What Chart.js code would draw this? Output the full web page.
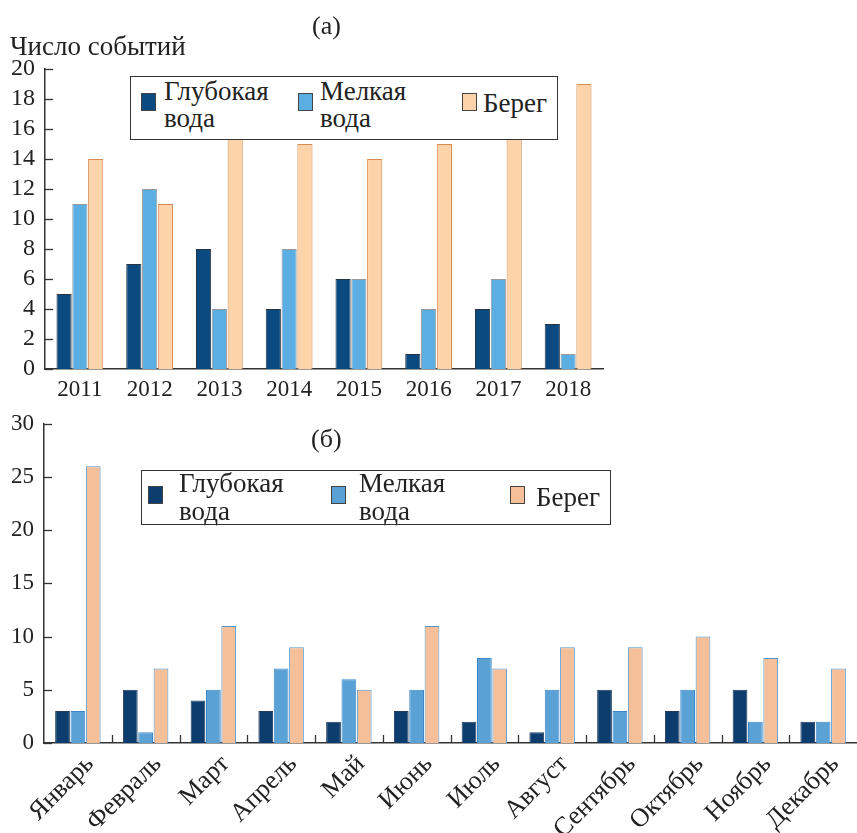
<!DOCTYPE html>
<html>
<head>
<meta charset="utf-8">
<script src="https://cdn.jsdelivr.net/npm/chart.js"></script>
<style>
  body { margin: 0; background: #fff; }
  #wrap { position: relative; width: 857px; height: 833px; font-family: "Liberation Serif", "Times New Roman", serif; color: #222; overflow: hidden; }
  canvas { position: absolute; left: 0; }
  .txt { position: absolute; font-size: 27px; line-height: 1; white-space: nowrap; }
  .legend { position: absolute; border: 1.5px solid #333; background: #fff; box-sizing: border-box; z-index: 2; }
  .item { position: absolute; font-size: 27px; line-height: 27px; white-space: nowrap; }
  .sw { position: absolute; width: 15px; height: 18px; box-sizing: border-box; border: 1.5px solid #444; }
</style>
</head>
<body>
<div id="wrap">
  <canvas id="chartA" width="857" height="412" style="top:0"></canvas>
  <canvas id="chartB" width="857" height="433" style="top:400px"></canvas>

  <div class="txt" style="left:312px;top:13px;font-size:26px">(а)</div>
  <div class="txt" style="left:10px;top:33px">Число событий</div>
  <div class="txt" style="left:311px;top:426px;font-size:26px">(б)</div>

  <div class="legend" id="legA" style="left:130px;top:76px;width:428px;height:64px"></div>
  <div class="legend" id="legB" style="left:141px;top:470px;width:470px;height:55px"></div>
</div>

<script>
// (a) by year
const years = ["2011", "2012", "2013", "2014", "2015", "2016", "2017", "2018"];
const deepByYear = [5, 7, 8, 4, 6, 1, 4, 3];
const shallowByYear = [11, 12, 4, 8, 6, 4, 6, 1];
const shoreByYear = [14, 11, 16, 15, 14, 15, 16, 19];

// (б) by month
const months = ["Январь", "Февраль", "Март", "Апрель", "Май", "Июнь", "Июль", "Август", "Сентябрь", "Октябрь", "Ноябрь", "Декабрь"];
const deepByMonth = [3, 5, 4, 3, 2, 3, 2, 1, 5, 3, 5, 2];
const shallowByMonth = [3, 1, 5, 7, 6, 5, 8, 5, 3, 5, 2, 2];
const shoreByMonth = [26, 7, 11, 9, 5, 11, 7, 9, 9, 10, 8, 7];

const seriesNames = ["Глубокая\nвода", "Мелкая\nвода", "Берег"];

const colorsA = [
  { fill: "#0b4a80", border: "#2a3441" },
  { fill: "#5baee2", border: "#9a9a9a" },
  { fill: "#fdd3aa", border: "#d98a52" }
];
const colorsB = [
  { fill: "#0c3d6e", border: "#1f3a5a" },
  { fill: "#5aa1d6", border: "#3f88c8" },
  { fill: "#f5bf99", border: "#4f95d0" }
];

const serif = '"Liberation Serif", "Times New Roman", serif';
Chart.defaults.font.family = serif;
Chart.defaults.color = "#222";

// short ticks drawn inside the plot (y values, and x category boundaries)
const innerTicks = {
  id: "innerTicks",
  afterDraw(chart, args, opts) {
    const { ctx, chartArea, scales } = chart;
    ctx.save();
    ctx.strokeStyle = "#333";
    ctx.lineWidth = 1.3;
    const y = scales.y;
    y.ticks.forEach((t, i) => {
      const py = Math.round(y.getPixelForTick(i)) + 0.5;
      ctx.beginPath();
      ctx.moveTo(chartArea.left, py);
      ctx.lineTo(chartArea.left + opts.len, py);
      ctx.stroke();
    });
    if (opts.xBounds) {
      const x = scales.x;
      for (let i = 1; i < x.ticks.length; i++) {
        const px = Math.round((x.getPixelForTick(i - 1) + x.getPixelForTick(i)) / 2) + 0.5;
        ctx.beginPath();
        ctx.moveTo(px, chartArea.bottom);
        ctx.lineTo(px, chartArea.bottom - opts.len);
        ctx.stroke();
      }
    }
    ctx.restore();
  }
};

function makeDatasets(lists, colors) {
  return lists.map((data, i) => ({
    label: seriesNames[i].replace("\n", " "),
    data,
    backgroundColor: colors[i].fill,
    borderColor: colors[i].border,
    borderWidth: 1,
    categoryPercentage: 0.68,
    barPercentage: 0.96
  }));
}

function makeChart(canvas, labels, datasets, cfg) {
  return new Chart(canvas, {
    type: "bar",
    data: { labels, datasets },
    plugins: [innerTicks],
    options: {
      responsive: false,
      animation: false,
      devicePixelRatio: 1,
      layout: { padding: cfg.padding },
      plugins: {
        legend: { display: false },
        tooltip: { enabled: false },
        innerTicks: { len: 8, xBounds: cfg.xBounds }
      },
      scales: {
        x: {
          grid: { display: false, drawTicks: false },
          border: { display: true, color: "#333", width: 1.5 },
          ticks: {
            font: { size: cfg.xFont, family: serif },
            color: "#222",
            padding: cfg.xPad,
            labelOffset: cfg.xShift,
            autoSkip: false,
            minRotation: cfg.rot,
            maxRotation: cfg.rot
          },
          afterFit: s => { s.height = cfg.xHeight; }
        },
        y: {
          min: 0,
          max: cfg.yMax,
          grid: { display: false, drawTicks: false },
          border: { display: true, color: "#333", width: 1.5 },
          ticks: { stepSize: cfg.yStep, autoSkip: false, font: { size: cfg.yFont, family: serif }, color: "#222", padding: 10 },
          afterFit: s => { s.width = cfg.yWidth; }
        }
      }
    }
  });
}

function drawAll() {
  makeChart(document.getElementById("chartA"), years,
    makeDatasets([deepByYear, shallowByYear, shoreByYear], colorsA),
    { padding: { top: 69, right: 254, left: 0, bottom: 0 }, yMax: 20, yStep: 2, yWidth: 45, xHeight: 43,
      xFont: 23, yFont: 24, xPad: 7, xShift: 0, rot: 0, xBounds: false });

  makeChart(document.getElementById("chartB"), months,
    makeDatasets([deepByMonth, shallowByMonth, shoreByMonth], colorsB),
    { padding: { top: 21, right: 0, left: 0, bottom: 0 }, yMax: 30, yStep: 5, yWidth: 44, xHeight: 90,
      xFont: 26, yFont: 23, xPad: 6, xShift: 12, rot: 45, xBounds: true });
}

// legends as html boxes
function buildLegend(el, colors, pos, lh) {
  seriesNames.forEach((name, i) => {
    const sw = document.createElement("div");
    sw.className = "sw";
    sw.style.left = pos[i].sx + "px";
    sw.style.top = pos[i].sy + "px";
    sw.style.background = colors[i].fill;
    el.appendChild(sw);
    const t = document.createElement("div");
    t.className = "item";
    t.style.left = pos[i].tx + "px";
    t.style.top = pos[i].ty + "px";
    t.style.lineHeight = lh + "px";
    t.innerHTML = name.replace("\n", "<br>");
    el.appendChild(t);
  });
}

buildLegend(document.getElementById("legA"), colorsA, [
  { sx: 10, sy: 16, tx: 33, ty: 1 },
  { sx: 167, sy: 16, tx: 189, ty: 1 },
  { sx: 331, sy: 16, tx: 352, ty: 13 }
], 27);
buildLegend(document.getElementById("legB"), colorsB, [
  { sx: 6, sy: 15, tx: 37, ty: -2 },
  { sx: 189, sy: 15, tx: 217, ty: -2 },
  { sx: 368, sy: 15, tx: 394, ty: 12 }
], 28);

if (document.fonts && document.fonts.load) {
  document.fonts.load('24px "Liberation Serif"').then(drawAll, drawAll);
} else {
  drawAll();
}
</script>
</body>
</html>
